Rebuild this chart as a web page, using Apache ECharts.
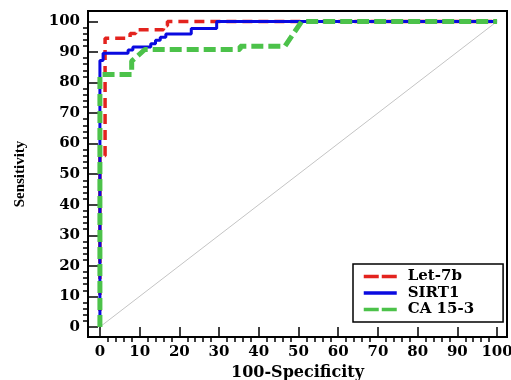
<!DOCTYPE html>
<html>
<head>
<meta charset="utf-8">
<script src="https://cdn.jsdelivr.net/npm/echarts@6/dist/echarts.min.js"></script>
<style>
  html, body { margin: 0; padding: 0; background: #fff; }
  #chart { width: 511px; height: 380px; }
</style>
</head>
<body>
<div id="chart"></div>
<script>
// ROC curves: x = 100-Specificity, y = Sensitivity
const seriesNames = ['Let-7b', 'SIRT1', 'CA 15-3']

const let7bX = [0, 0, 1.3, 1.3, 7.6, 7.6, 9, 9, 16, 16, 17, 17, 100]
const let7bY = [0, 56, 56, 94.5, 94.5, 96, 96, 97.3, 97.3, 98.6, 98.6, 100, 100]

const sirt1X = [0, 0, 0.8, 0.8, 7.1, 7.1, 8.3, 8.3, 12.8, 12.8, 14, 14, 15.2, 15.2, 16.6, 16.6, 23, 23, 29.4, 29.4, 100]
const sirt1Y = [0, 87.2, 87.2, 89.6, 89.6, 90.6, 90.6, 91.6, 91.6, 92.7, 92.7, 93.8, 93.8, 94.8, 94.8, 95.9, 95.9, 97.7, 97.7, 100, 100]

const ca153X = [0, 0, 8, 8, 11.3, 35.3, 35.3, 46.6, 50.8, 100]
const ca153Y = [0, 82.6, 82.6, 87, 90.8, 90.8, 91.9, 91.9, 100, 100]

const refLineX = [0, 100]
const refLineY = [0, 100]

const majorTicks = [0, 10, 20, 30, 40, 50, 60, 70, 80, 90, 100]
const minorTicks = [2, 4, 6, 8, 12, 14, 16, 18, 22, 24, 26, 28, 32, 34, 36, 38, 42, 44, 46, 48,
  52, 54, 56, 58, 62, 64, 66, 68, 72, 74, 76, 78, 82, 84, 86, 88, 92, 94, 96, 98]

const colors = ['#e3231e', '#0a0ae0', '#4cc24a']

const zip = (xs, ys) => xs.map((x, i) => [x, ys[i]])

const labelFont = {
  fontFamily: 'DejaVu Serif',
  fontWeight: 'bold',
  fontSize: 15,
  color: '#000',
}

const xRange = { min: -3, max: 102.5 }
const yRange = { min: -3.3, max: 103.4 }

// hidden helper axes whose zero sits on the frame edge, so the visible axes stay "on zero" there
const edgeX = { type: 'value', show: false, min: 0, max: xRange.max - xRange.min }
const edgeY = { type: 'value', show: false, min: 0, max: yRange.max - yRange.min }

function tickAxis(range, minor, extra) {
  return {
    type: 'value',
    ...range,
    axisLine: { show: false, onZero: true, onZeroAxisIndex: 2 },
    splitLine: { show: false },
    axisTick: {
      show: true,
      inside: true,
      length: minor ? 5 : 10,
      customValues: minor ? minorTicks : majorTicks,
      lineStyle: { color: '#000', width: 1.5 },
    },
    axisLabel: minor ? { show: false } : { customValues: majorTicks, ...labelFont },
    ...extra,
  }
}

const chart = echarts.init(document.getElementById('chart'))

chart.setOption({
  animation: false,
  grid: {
    left: 88,
    right: 4,
    top: 11,
    bottom: 43,
    outerBoundsMode: 'none',
    show: true,
    borderColor: '#000',
    borderWidth: 2,
  },
  xAxis: [
    tickAxis(xRange, false, {
      name: '100-Specificity',
      nameLocation: 'middle',
      nameGap: 27,
      nameTextStyle: { fontFamily: 'DejaVu Serif', fontWeight: 'bold', fontSize: 16, color: '#000' },
    }),
    tickAxis(xRange, true, {}),
    edgeX,
  ],
  yAxis: [
    tickAxis(yRange, false, {
      name: 'Sensitivity',
      nameLocation: 'middle',
      nameGap: 60,
      nameTextStyle: { fontFamily: 'Liberation Serif', fontWeight: 'bold', fontSize: 15, color: '#000' },
    }),
    tickAxis(yRange, true, {}),
    edgeY,
  ],
  legend: {
    orient: 'vertical',
    left: 353,
    top: 264,
    padding: [5, 29, 5, 9],
    itemGap: 1.5,
    itemWidth: 33,
    itemHeight: 16,
    borderColor: '#000',
    borderWidth: 1.5,
    backgroundColor: '#fff',
    textStyle: { ...labelFont, padding: [0, 0, 0, 6] },
    data: seriesNames.map((name, i) => ({
      name,
      itemStyle: { opacity: 0 },
      lineStyle: { width: 3.5, type: i === 1 ? 'solid' : [15, 3] },
    })),
  },
  series: [
    {
      name: 'ref',
      type: 'line',
      silent: true,
      symbol: 'none',
      lineStyle: { color: '#c4c4c4', width: 1 },
      data: zip(refLineX, refLineY),
    },
    {
      name: seriesNames[0],
      type: 'line',
      symbol: 'none',
      color: colors[0],
      lineStyle: { color: colors[0], width: 3.5, type: [10, 6] },
      data: zip(let7bX, let7bY),
    },
    {
      name: seriesNames[1],
      type: 'line',
      symbol: 'none',
      color: colors[1],
      lineStyle: { color: colors[1], width: 3 },
      data: zip(sirt1X, sirt1Y),
    },
    {
      name: seriesNames[2],
      type: 'line',
      symbol: 'none',
      color: colors[2],
      lineStyle: { color: colors[2], width: 5, type: [12, 5] },
      data: zip(ca153X, ca153Y),
    },
  ],
})
</script>
</body>
</html>
